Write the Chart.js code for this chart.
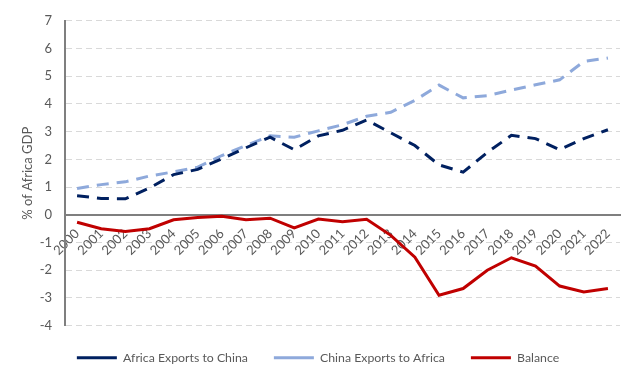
<!DOCTYPE html>
<html>
<head>
<meta charset="utf-8">
<script src="https://cdn.jsdelivr.net/npm/chart.js@4.4.1/dist/chart.umd.min.js"></script>
<style>
  html, body { margin: 0; padding: 0; background: #fff; }
  #wrap { width: 636px; height: 378px; }
</style>
</head>
<body>
<div id="wrap"><canvas id="tradeChart"></canvas></div>
<script>
// years on the x axis
const years = ['2000','2001','2002','2003','2004','2005','2006','2007','2008','2009','2010',
               '2011','2012','2013','2014','2015','2016','2017','2018','2019','2020','2021','2022'];

// % of Africa GDP
const africaExports = [0.69, 0.59, 0.58, 0.97, 1.45, 1.64, 2.02, 2.42, 2.8, 2.35, 2.85,
                       3.05, 3.42, 2.96, 2.5, 1.8, 1.54, 2.25, 2.87, 2.75, 2.35, 2.75, 3.07];
const chinaExports  = [0.95, 1.09, 1.19, 1.4, 1.55, 1.72, 2.14, 2.5, 2.85, 2.8, 3.03,
                       3.25, 3.56, 3.7, 4.13, 4.68, 4.22, 4.3, 4.5, 4.69, 4.87, 5.53, 5.66];
const balance       = [-0.27, -0.5, -0.6, -0.5, -0.18, -0.1, -0.05, -0.18, -0.12, -0.47, -0.15,
                       -0.25, -0.16, -0.74, -1.53, -2.9, -2.66, -2.0, -1.55, -1.85, -2.57, -2.78, -2.66];

const yMin = -4, yMax = 7;

const textGray = '#595959';
const fontFamily = 'Lato, "Open Sans", sans-serif';

const ctx = document.getElementById('tradeChart');
new Chart(ctx, {
    type: 'line',
    data: {
        labels: years,
        datasets: [
            {
                label: 'Africa Exports to China',
                data: africaExports,
                borderColor: '#002060',
                backgroundColor: '#002060',
                borderWidth: 3,
                borderDash: [12, 8],
                pointRadius: 0,
                pointStyle: 'line',
                tension: 0
            },
            {
                label: 'China Exports to Africa',
                data: chinaExports,
                borderColor: '#8EA9DB',
                backgroundColor: '#8EA9DB',
                borderWidth: 3,
                borderDash: [12, 8],
                pointRadius: 0,
                pointStyle: 'line',
                tension: 0
            },
            {
                label: 'Balance',
                data: balance,
                borderColor: '#C00000',
                backgroundColor: '#C00000',
                borderWidth: 3,
                pointRadius: 0,
                pointStyle: 'line',
                tension: 0
            }
        ]
    },
    options: {
        responsive: true,
        maintainAspectRatio: false,
        animation: false,
        layout: { padding: { top: 16, right: 16, bottom: 4, left: 16 } },
        scales: {
            x: {
                position: { y: 0 },
                offset: true,
                grid: { display: true, color: 'rgba(0,0,0,0)', drawTicks: false },
                border: { display: true, color: '#7f7f7f', width: 2 },
                ticks: {
                    color: textGray,
                    font: { family: fontFamily, size: 13 },
                    minRotation: 45,
                    maxRotation: 45,
                    autoSkip: false,
                    padding: 11
                },
                // labels sit on the zero line, so take no room at the bottom or sides
                afterFit: (scale) => {
                    scale.height = 0;
                    scale.paddingLeft = 0;
                    scale.paddingRight = 0;
                }
            },
            y: {
                min: yMin,
                max: yMax,
                ticks: {
                    stepSize: 1,
                    color: textGray,
                    font: { family: fontFamily, size: 13 },
                    padding: 13
                },
                grid: { color: '#d9d9d9', lineWidth: 1, drawTicks: false },
                border: { display: true, color: '#7f7f7f', width: 2, dash: [6, 4] },
                title: {
                    display: true,
                    text: '% of Africa GDP',
                    color: textGray,
                    font: { family: fontFamily, size: 13 },
                    padding: 4
                },
                // fixed axis width so the plot starts at x = 65
                afterFit: (scale) => { scale.width = 49; }
            }
        },
        plugins: {
            legend: {
                position: 'bottom',
                labels: {
                    usePointStyle: true,
                    pointStyleWidth: 40,
                    boxWidth: 40,
                    color: textGray,
                    font: { family: fontFamily, size: 12.3 },
                    padding: 26
                }
            },
            tooltip: { enabled: false }
        }
    }
});
</script>
</body>
</html>
